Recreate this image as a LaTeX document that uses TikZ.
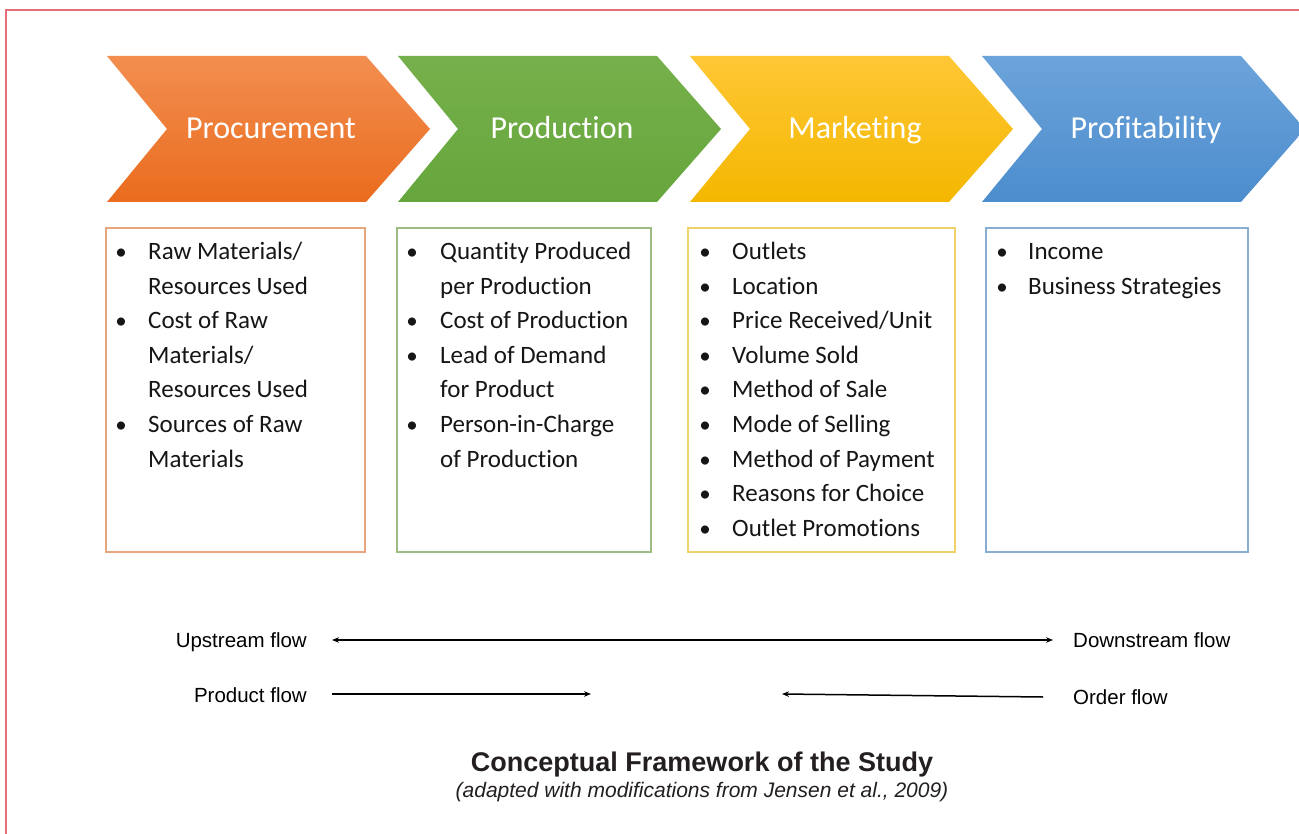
\documentclass[tikz,border=0pt]{standalone}
\usepackage{fontspec}
\setmainfont[Ligatures=NoCommon]{Carlito}
\newfontfamily\helv{Liberation Sans}
\usetikzlibrary{arrows.meta}

\definecolor{framered}{HTML}{E56F77}
\definecolor{orangeT}{HTML}{F28E50}
\definecolor{orangeB}{HTML}{EA6C1E}
\definecolor{greenT}{HTML}{76B04C}
\definecolor{greenB}{HTML}{66A63C}
\definecolor{yellowT}{HTML}{FFC735}
\definecolor{yellowB}{HTML}{F4B700}
\definecolor{blueT}{HTML}{6CA3DA}
\definecolor{blueB}{HTML}{4C8DCD}
\definecolor{orangeLine}{HTML}{E8A67C}
\definecolor{greenLine}{HTML}{9CBB82}
\definecolor{yellowLine}{HTML}{F1D26A}
\definecolor{blueLine}{HTML}{89AED3}
\definecolor{bodytext}{HTML}{161616}
\definecolor{titletext}{HTML}{231F20}

% chevron outline: left edge x, notch depth 60, body 259, tip 323
\newcommand\chevronpath[1]{(#1,56) -- (#1+259,56) -- (#1+323,129) -- (#1+259,202) -- (#1,202) -- (#1+60,129) -- cycle}
% one bulleted line and one continuation line of a list
\newcommand\listline[5]{\node[bul] (#1b) at (#2,#4) {\textbullet}; \node[itm] (#1) at (#3,#4) {#5};}
\newcommand\contline[4]{\node[itm] (#1) at (#2,#3) {#4};}

\tikzset{
  stage/.style={anchor=base, text=white, inner sep=0, font=\fontsize{32}{38}\selectfont},
  listbox/.style={line width=1.4pt},
  itm/.style={anchor=base west, inner sep=0, text=bodytext, font=\fontsize{25}{30}\selectfont},
  bul/.style={anchor=base, inner sep=0, text=bodytext, font=\fontsize{23}{30}\selectfont},
  flowlbl/.style={inner sep=0, text=black, font=\helv\fontsize{20.5}{24}\selectfont},
  tip/.style={Stealth[length=7pt,width=5.5pt]},
  flowarrow/.style={line width=1.5pt, -{Stealth[length=7pt,width=5.5pt]}},
}

\begin{document}
\begin{tikzpicture}[x=1pt,y=-1pt]
\useasboundingbox (0,0) rectangle (1299,834);
\fill[white] (0,0) rectangle (1299,834);

% page frame
\draw[framered, line width=2.5pt] (1299,10) -- (6,10) -- (6,834);

% stage chevrons
\shade[top color=orangeT, bottom color=orangeB] \chevronpath{107};
\shade[top color=greenT, bottom color=greenB] \chevronpath{398};
\shade[top color=yellowT, bottom color=yellowB] \chevronpath{690};
\shade[top color=blueT, bottom color=blueB] \chevronpath{982};

\node[stage] (proc) at (271,139) {Procurement};
\node[stage] (prod) at (562,139) {Production};
\node[stage] (mark) at (855,139) {Marketing};
\node[stage] (prof) at (1146,139) {Profitability};

% indicator boxes
\draw[listbox, orangeLine] (106,228) rectangle (365,552);
\draw[listbox, greenLine] (397,228) rectangle (651,552);
\draw[listbox, yellowLine] (688,228) rectangle (955,552);
\draw[listbox, blueLine] (986,228) rectangle (1248,552);

% procurement indicators
\listline{a1}{121}{148}{260}{Raw Materials/}
\contline{a2}{148}{294.5}{Resources Used}
\listline{a3}{121}{148}{329}{Cost of Raw}
\contline{a4}{148}{363.5}{Materials/}
\contline{a5}{148}{398}{Resources Used}
\listline{a6}{121}{148}{432.5}{Sources of Raw}
\contline{a7}{148}{467}{Materials}

% production indicators
\listline{b1}{412}{440}{260}{Quantity Produced}
\contline{b2}{440}{294.5}{per Production}
\listline{b3}{412}{440}{329}{Cost of Production}
\listline{b4}{412}{440}{363.5}{Lead of Demand}
\contline{b5}{440}{398}{for Product}
\listline{b6}{412}{440}{432.5}{Person-in-Charge}
\contline{b7}{440}{467}{of Production}

% marketing indicators
\listline{c1}{705}{732}{260}{Outlets}
\listline{c2}{705}{732}{294.5}{Location}
\listline{c3}{705}{732}{329}{Price Received/Unit}
\listline{c4}{705}{732}{363.5}{Volume Sold}
\listline{c5}{705}{732}{398}{Method of Sale}
\listline{c6}{705}{732}{432.5}{Mode of Selling}
\listline{c7}{705}{732}{467}{Method of Payment}
\listline{c8}{705}{732}{501.5}{Reasons for Choice}
\listline{c9}{705}{732}{536}{Outlet Promotions}

% profitability indicators
\listline{d1}{1002}{1028}{260}{Income}
\listline{d2}{1002}{1028}{294.5}{Business Strategies}

% flow directions
\node[flowlbl, anchor=base east] (up) at (307,647.5) {Upstream flow};
\node[flowlbl, anchor=base west] (down) at (1073,647.5) {Downstream flow};
\node[flowlbl, anchor=base east] (pflow) at (307,702) {Product flow};
\node[flowlbl, anchor=base west] (oflow) at (1073,704.5) {Order flow};
\coordinate (upL) at (332,640);
\coordinate (upR) at (1053,640);
\coordinate (pstart) at (332,694);
\coordinate (pend) at (591,694);
\coordinate (ostart) at (1043,697);
\coordinate (oend) at (782,694);

\draw[flowarrow, {Stealth[length=7pt,width=5.5pt]}-{Stealth[length=7pt,width=5.5pt]}] (upL) -- (upR);
\draw[flowarrow] (pstart) -- (pend);
\draw[flowarrow] (ostart) -- (oend);

% caption
\node[anchor=base, inner sep=0, text=titletext, font=\helv\bfseries\fontsize{27}{32}\selectfont] (title) at (702,771) {Conceptual Framework of the Study};
\node[anchor=base, inner sep=0, text=titletext, font=\helv\itshape\fontsize{21}{25}\selectfont] (source) at (702,797) {(adapted with modifications from Jensen et al., 2009)};
\end{tikzpicture}
\end{document}
